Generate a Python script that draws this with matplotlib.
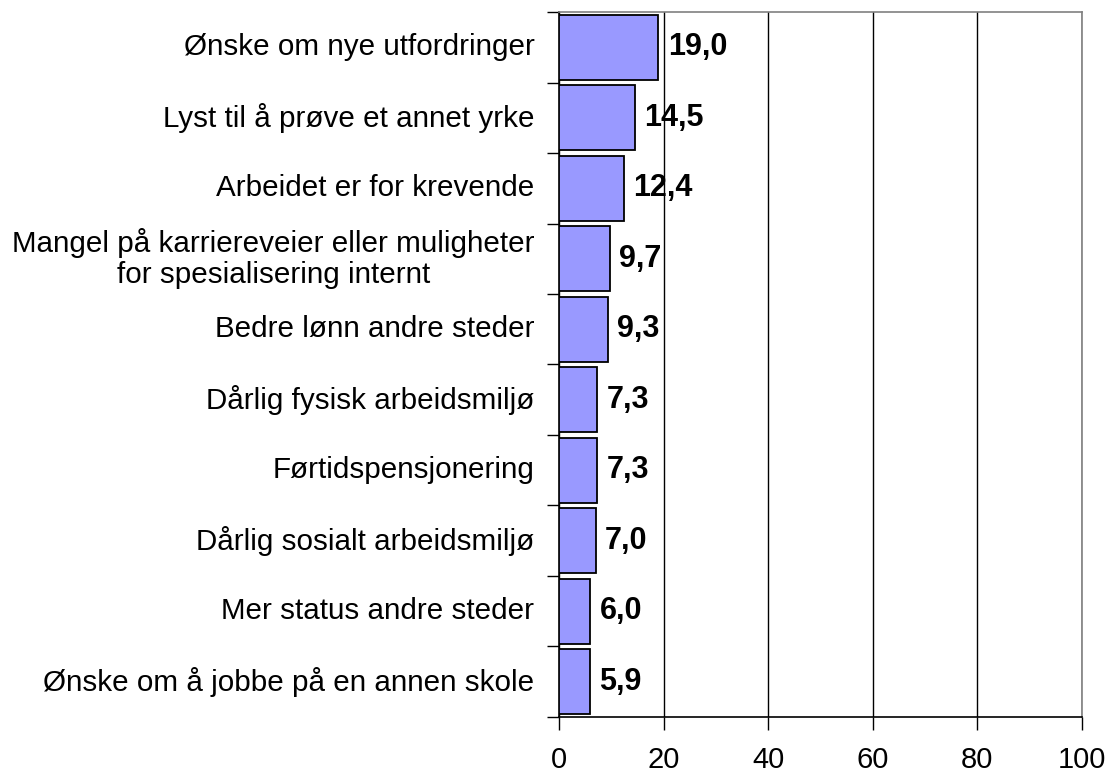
import numpy as np
import matplotlib
matplotlib.use("Agg")
import matplotlib.pyplot as plt

plt.rcParams['font.family'] = ['Liberation Sans', 'DejaVu Sans']

# Data
reasons = [
    "Ønske om nye utfordringer",
    "Lyst til å prøve et annet yrke",
    "Arbeidet er for krevende",
    "Mangel på karriereveier eller muligheter\nfor spesialisering internt",
    "Bedre lønn andre steder",
    "Dårlig fysisk arbeidsmiljø",
    "Førtidspensjonering",
    "Dårlig sosialt arbeidsmiljø",
    "Mer status andre steder",
    "Ønske om å jobbe på en annen skole",
]
values = [19.0, 14.5, 12.4, 9.7, 9.3, 7.3, 7.3, 7.0, 6.0, 5.9]
xticks = [0, 20, 40, 60, 80, 100]

fig = plt.figure(figsize=(11.12, 7.8), dpi=100)
ax = fig.add_axes([0.5027, 0.0808, 0.4703, 0.9038])

y = np.arange(len(values))
ax.barh(y, values, height=0.92, color="#9999FF", edgecolor="black", linewidth=1.3, zorder=3)

for yi, v in zip(y, values):
    ax.text(v + 1.8, yi, f"{v:.1f}".replace(".", ","), va="center", ha="left",
            fontsize=22, fontweight="bold", zorder=4)

ax.set_xlim(0, 100)
ax.set_ylim(len(values) - 0.5, -0.5)
ax.set_xticks(xticks)
ax.set_xticklabels([str(t) for t in xticks], fontsize=21)
ax.tick_params(axis="x", length=9, width=1, pad=12)

# category labels centred in each band, ticks at band borders
ax.set_yticks(np.arange(len(values) + 1) - 0.5)
ax.set_yticklabels([])
ax.tick_params(axis="y", length=9, width=1)
for yi, lab in zip(y, reasons):
    ax.text(-0.047, yi, lab, transform=ax.get_yaxis_transform(), ha="right",
            va="center", fontsize=21.3, multialignment="center", linespacing=1.15)

ax.xaxis.grid(True, color="black", linewidth=1, zorder=0)
ax.spines["top"].set_color("#808080")
ax.spines["right"].set_color("#808080")
for s in ax.spines.values():
    s.set_linewidth(1.2)

fig.savefig("out.png", dpi=100)
